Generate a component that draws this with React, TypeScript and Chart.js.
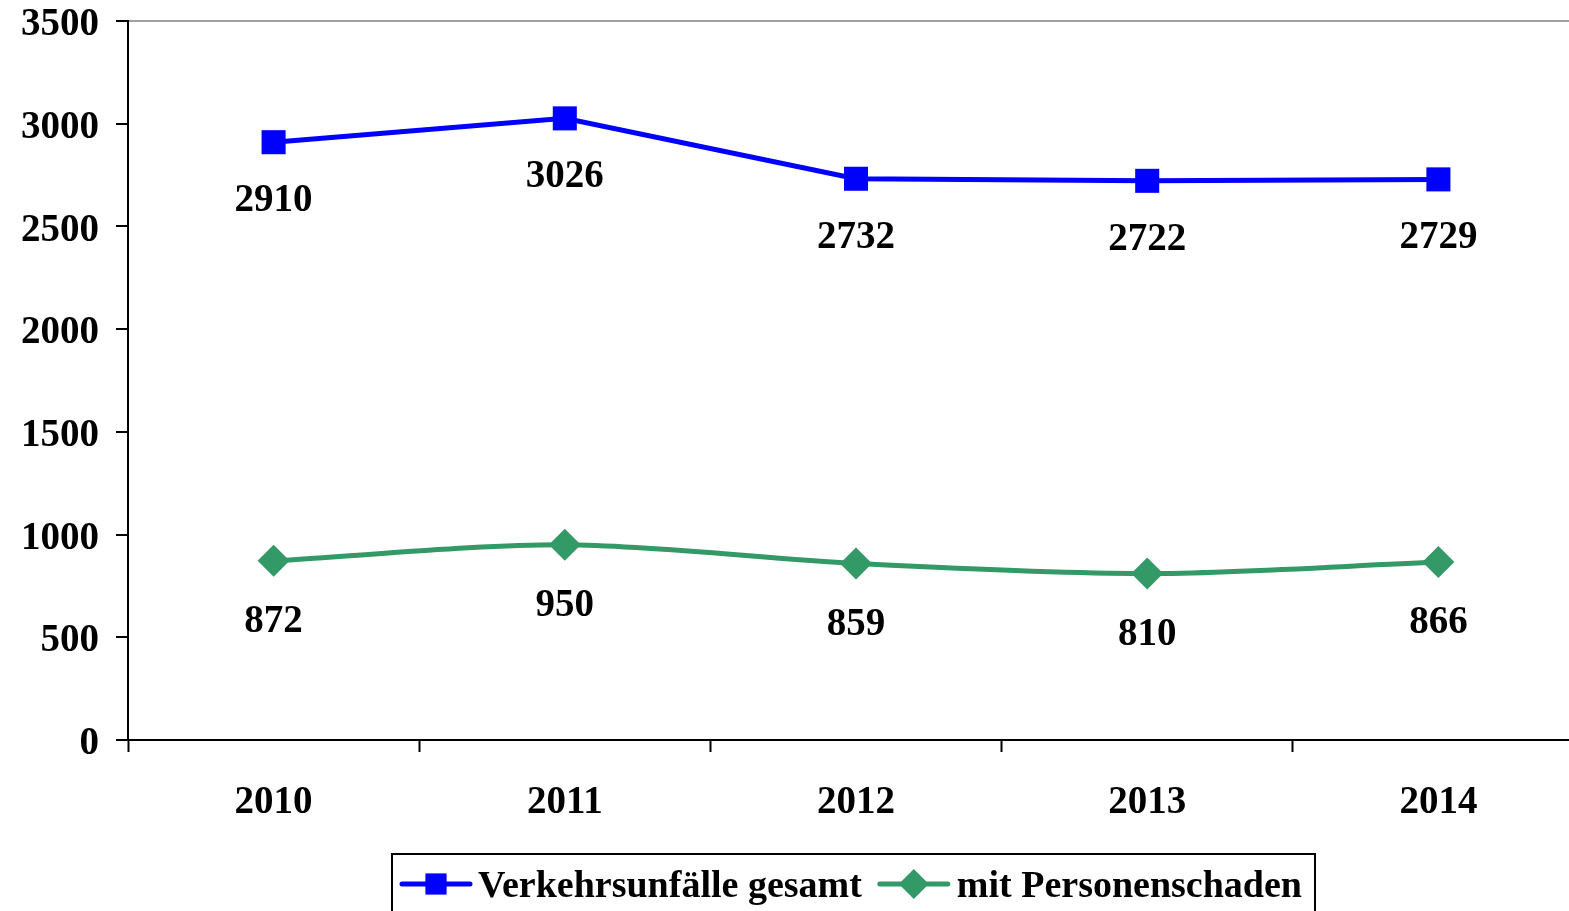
import React, { useEffect, useRef } from 'react';
import { Chart, registerables } from 'chart.js';

Chart.register(...registerables);

const years = ['2010', '2011', '2012', '2013', '2014'];
const totalAccidents = [2910, 3026, 2732, 2722, 2729];
const injuryAccidents = [872, 950, 859, 810, 866];
const seriesNames = ['Verkehrsunfälle gesamt', 'mit Personenschaden'];
const yMin = 0;
const yMax = 3500;
const yStep = 500;

const FONT = "'Liberation Serif', 'Times New Roman', serif";
const BLUE = '#0000FF';
const GREEN = '#339966';

function drawMarker(ctx: CanvasRenderingContext2D, style: string, x: number, y: number, r: number, color: string) {
  ctx.save();
  ctx.fillStyle = color;
  ctx.beginPath();
  if (style === 'rect') {
    const s = Math.SQRT1_2 * r;
    ctx.rect(x - s, y - s, 2 * s, 2 * s);
  } else {
    ctx.moveTo(x - r, y);
    ctx.lineTo(x, y - r);
    ctx.lineTo(x + r, y);
    ctx.lineTo(x, y + r);
    ctx.closePath();
  }
  ctx.fill();
  ctx.restore();
}

const valueLabels = {
  id: 'valueLabels',
  afterDatasetsDraw(chart: any, _args: any, opts: any) {
    const ctx = chart.ctx as CanvasRenderingContext2D;
    ctx.save();
    ctx.font = `bold 39px ${FONT}`;
    ctx.fillStyle = '#000';
    ctx.textAlign = 'center';
    ctx.textBaseline = 'middle';
    chart.data.datasets.forEach((ds: any, i: number) => {
      const meta = chart.getDatasetMeta(i);
      const off = opts.offsets[i];
      meta.data.forEach((pt: any, j: number) => {
        ctx.fillText(String(ds.data[j]), pt.x, pt.y + off);
      });
    });
    ctx.restore();
  },
};

const boxLegend = {
  id: 'boxLegend',
  afterDraw(chart: any, _args: any, opts: any) {
    const ctx = chart.ctx as CanvasRenderingContext2D;
    ctx.save();
    ctx.font = `bold 38px ${FONT}`;
    const left = opts.left;
    const top = opts.top;
    const cy = opts.centerY;
    let x = left + 10;
    const items = chart.data.datasets.map((ds: any) => ({
      label: ds.label,
      color: ds.borderColor,
      style: ds.pointStyle,
      r: ds.legendRadius,
    }));
    const parts: any[] = [];
    items.forEach((it: any, i: number) => {
      const lineStart = x;
      const lineEnd = x + 68;
      const textX = lineEnd + (i === 0 ? 8 : 9);
      const w = ctx.measureText(it.label).width;
      parts.push({ ...it, lineStart, lineEnd, textX });
      x = textX + w + 18;
    });
    const right = x - 18 + 13;
    ctx.strokeStyle = '#000';
    ctx.lineWidth = 2;
    ctx.strokeRect(left, top, right - left, 100);
    parts.forEach((p) => {
      ctx.strokeStyle = p.color;
      ctx.lineWidth = 5;
      ctx.lineCap = 'round';
      ctx.beginPath();
      ctx.moveTo(p.lineStart, cy);
      ctx.lineTo(p.lineEnd, cy);
      ctx.stroke();
      drawMarker(ctx, p.style, (p.lineStart + p.lineEnd) / 2, cy, p.r, p.color);
      ctx.fillStyle = '#000';
      ctx.textAlign = 'left';
      ctx.textBaseline = 'middle';
      ctx.fillText(p.label, p.textX, cy + 3);
    });
    ctx.restore();
  },
};

export default function App() {
  const ref = useRef<HTMLCanvasElement>(null);
  useEffect(() => {
    document.body.style.margin = '0';
    document.body.style.overflow = 'hidden';
    const chart = new Chart(ref.current!, {
      type: 'line',
      data: {
        labels: years,
        datasets: [
          {
            label: seriesNames[0],
            data: totalAccidents,
            borderColor: BLUE,
            backgroundColor: BLUE,
            borderWidth: 5,
            pointStyle: 'rect',
            pointRadius: 17,
            pointBackgroundColor: BLUE,
            pointBorderWidth: 0,
            tension: 0,
            legendRadius: 15,
          } as any,
          {
            label: seriesNames[1],
            data: injuryAccidents,
            borderColor: GREEN,
            backgroundColor: GREEN,
            borderWidth: 5,
            pointStyle: 'rectRot',
            pointRadius: 16,
            pointBackgroundColor: GREEN,
            pointBorderWidth: 0,
            tension: 0.3,
            legendRadius: 15,
          } as any,
        ],
      },
      options: {
        responsive: false,
        animation: false,
        layout: { padding: { top: 21, right: 0, bottom: 0, left: 0 } },
        plugins: {
          legend: { display: false },
          tooltip: { enabled: false },
          valueLabels: { offsets: [59, 61] },
          boxLegend: { left: 392, top: 854, centerY: 884 },
        } as any,
        scales: {
          x: {
            offset: true,
            grid: {
              offset: true,
              color: 'rgba(0,0,0,0)',
              tickColor: '#000',
              tickLength: 12,
              tickWidth: 2,
            },
            border: { color: '#000', width: 2 },
            ticks: {
              color: '#000',
              font: { family: FONT, size: 39, weight: 'bold' },
              padding: 28,
              maxRotation: 0,
              autoSkip: false,
            },
            afterFit: (s: any) => {
              s.height = 171;
            },
          },
          y: {
            min: yMin,
            max: yMax,
            ticks: {
              stepSize: yStep,
              color: '#000',
              font: { family: FONT, size: 39, weight: 'bold', lineHeight: 0.1 },
              padding: 17,
              labelOffset: 4,
              callback: (v: any) => String(v),
            },
            grid: {
              color: (c: any) => (c.tick && c.tick.value === yMax ? '#a0a0a0' : 'rgba(0,0,0,0)'),
              lineWidth: 2,
              tickColor: '#000',
              tickLength: 12,
              tickWidth: 2,
            },
            border: { color: '#000', width: 2 },
            afterFit: (s: any) => {
              s.width = 128;
              s.paddingTop = 0;
              s.paddingBottom = 0;
            },
          },
        },
      },
      plugins: [valueLabels, boxLegend],
    });
    return () => chart.destroy();
  }, []);
  return (
    <div style={{ width: 1569, height: 911, overflow: 'hidden', background: '#fff' }}>
      <canvas ref={ref} width={1601} height={911} style={{ display: 'block' }} />
    </div>
  );
}
